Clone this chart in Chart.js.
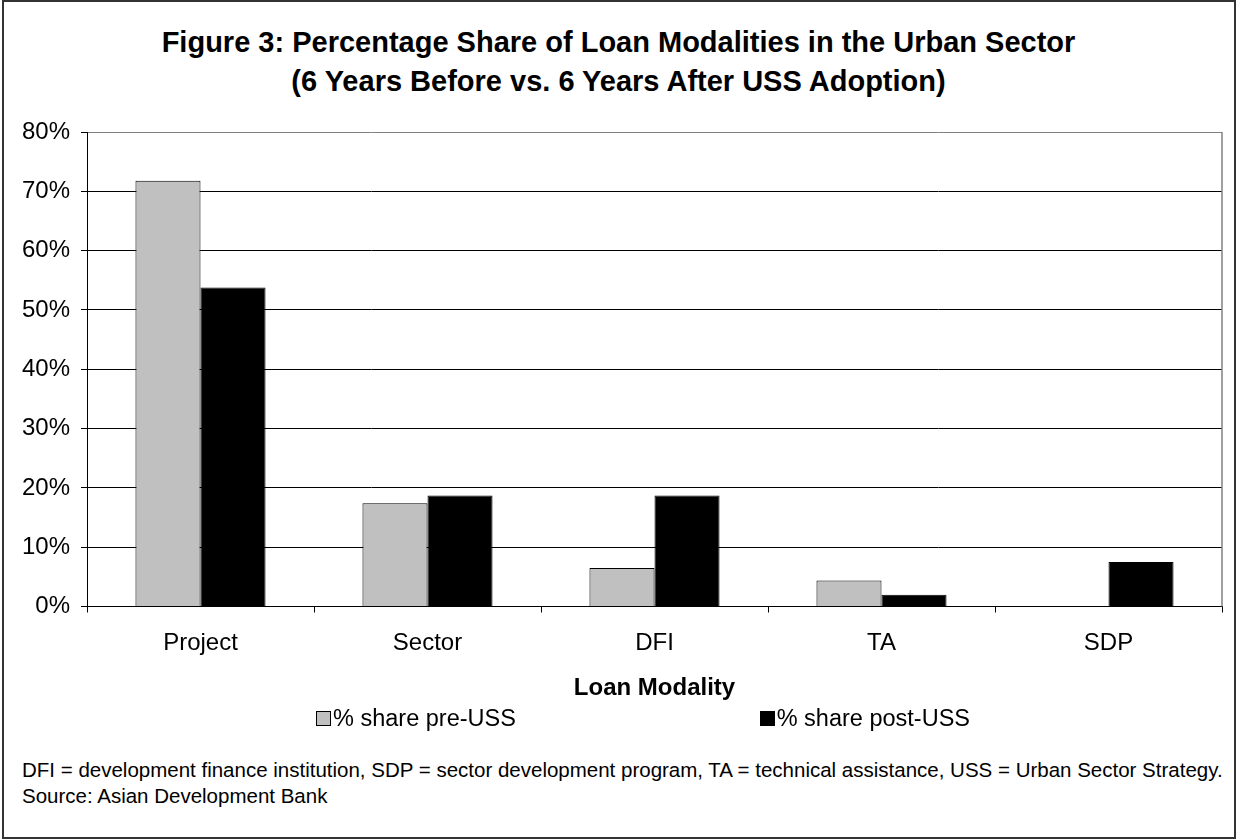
<!DOCTYPE html>
<html>
<head>
<meta charset="utf-8">
<title>Loan Modalities in the Urban Sector</title>
<script src="https://cdn.jsdelivr.net/npm/chart.js@4.4.1/dist/chart.umd.min.js"></script>
<style>
  html, body { margin: 0; padding: 0; background: #fff; }
  body { width: 1236px; height: 840px; position: relative; overflow: hidden;
         font-family: 'Liberation Sans', Arial, sans-serif; color: #000; }
  .frame { position: absolute; left: 2px; top: 0; width: 1234px; height: 839px;
           box-sizing: border-box; border: 2px solid #333; }
  .title { position: absolute; left: 0; top: 22.8px; width: 1237px; text-align: center;
           font-size: 29px; font-weight: bold; line-height: 39px; }
  #chartWrap { position: absolute; left: 0; top: 0; width: 1236px; height: 705px; }
  .legend { position: absolute; left: 316px; top: 704px; width: 654px; height: 28px;
            display: flex; justify-content: space-between; align-items: center; font-size: 23.5px; }
  .legend span.item { display: flex; align-items: center; }
  .legend i { display: inline-block; width: 13px; height: 13px; border: 1px solid #000; margin-right: 2px; }
  .note { position: absolute; left: 22px; top: 757px; font-size: 20.5px; line-height: 26px; }
</style>
</head>
<body>
<div class="frame"></div>
<div class="title">
  Figure 3: Percentage Share of Loan Modalities in the Urban Sector<br>
  (6 Years Before vs. 6 Years After USS Adoption)
</div>
<div id="chartWrap"><canvas id="loanChart"></canvas></div>
<div class="legend" id="legend"></div>
<div class="note">
  DFI = development finance institution, SDP = sector development program, TA = technical assistance, USS = Urban Sector Strategy.<br>
  Source: Asian Development Bank
</div>
<script>
// loan modality shares (%), before and after the Urban Sector Strategy
const modalities = ['Project', 'Sector', 'DFI', 'TA', 'SDP'];
const preUSS = [71.8, 17.4, 6.5, 4.4, 0];
const postUSS = [53.8, 18.7, 18.7, 2.0, 7.5];
const seriesNames = ['% share pre-USS', '% share post-USS'];
const seriesColors = ['#c0c0c0', '#000000'];
const yTicks = [0, 10, 20, 30, 40, 50, 60, 70, 80];

Chart.defaults.font.family = "'Liberation Sans', Arial, sans-serif";
Chart.defaults.color = '#000';

// grey frame on the right side of the plot area
const plotFrame = {
  id: 'plotFrame',
  afterDraw(chart) {
    const a = chart.chartArea;
    const ctx = chart.ctx;
    ctx.save();
    ctx.strokeStyle = '#808080';
    ctx.lineWidth = 1.5;
    ctx.beginPath();
    ctx.moveTo(a.right, a.top);
    ctx.lineTo(a.right, a.bottom);
    ctx.stroke();
    ctx.restore();
  }
};

const ctx = document.getElementById('loanChart').getContext('2d');
const loanChart = new Chart(ctx, {
  type: 'bar',
  data: {
    labels: modalities,
    datasets: [
      { label: seriesNames[0], data: preUSS, backgroundColor: seriesColors[0],
        borderColor: '#000', borderWidth: 1 },
      { label: seriesNames[1], data: postUSS, backgroundColor: seriesColors[1],
        borderColor: '#000', borderWidth: 1 }
    ]
  },
  options: {
    responsive: true,
    maintainAspectRatio: false,
    animation: false,
    events: [],
    categoryPercentage: 0.573,
    barPercentage: 1.0,
    layout: { padding: { left: 0, right: 14, top: 132, bottom: 0 } },
    plugins: {
      legend: { display: false },
      tooltip: { enabled: false }
    },
    scales: {
      x: {
        grid: { display: true, drawOnChartArea: false, drawTicks: true, tickLength: 6,
                color: '#000', tickColor: '#000', offset: true },
        border: { color: '#000', width: 1 },
        ticks: { font: { size: 24 }, padding: 16, color: '#000' },
        title: { display: true, text: 'Loan Modality', font: { size: 24, weight: 'bold' },
                 padding: { top: 0, bottom: 2.6 }, color: '#000' },
        afterFit(scale) { scale.height = 98.5; }
      },
      y: {
        min: 0,
        max: 80,
        afterBuildTicks(scale) { scale.ticks = yTicks.map(v => ({ value: v })); },
        grid: {
          color: c => (c.tick && c.tick.value === 80 ? '#808080' : '#000'),
          tickColor: '#000',
          tickLength: 6,
          lineWidth: 1
        },
        border: { color: '#000', width: 1 },
        ticks: { font: { size: 24 }, padding: 11, color: '#000',
                 callback: v => v + '%' },
        afterFit(scale) { scale.width = 87; }
      }
    }
  },
  plugins: [plotFrame]
});

// legend row under the axis title
const legendEl = document.getElementById('legend');
seriesNames.forEach((name, i) => {
  const item = document.createElement('span');
  item.className = 'item';
  const box = document.createElement('i');
  box.style.background = seriesColors[i];
  item.appendChild(box);
  item.appendChild(document.createTextNode(name));
  legendEl.appendChild(item);
});
</script>
</body>
</html>
